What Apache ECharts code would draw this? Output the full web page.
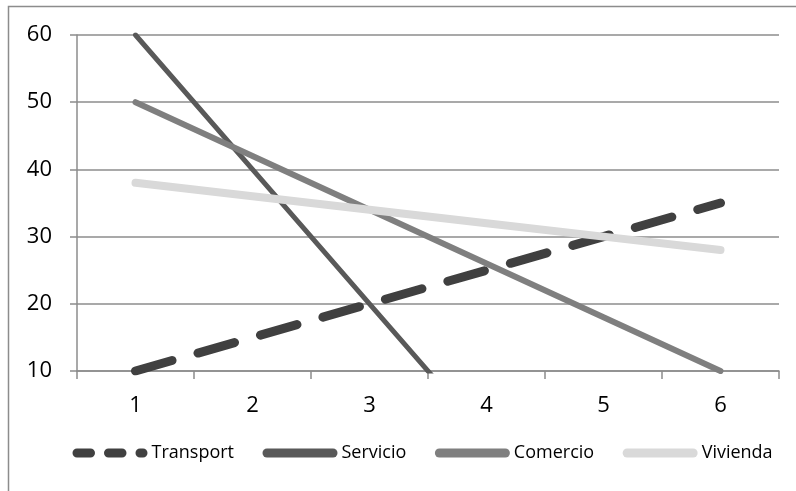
<!DOCTYPE html>
<html><head><meta charset="utf-8">
<script src="https://cdn.jsdelivr.net/npm/echarts@6/dist/echarts.min.js"></script>
<style>html,body{margin:0;padding:0;background:#fff}#c{width:796px;height:491px}</style>
</head><body><div id="c"></div>
<script>
var categories = ['1','2','3','4','5','6'];
var transport = [10, 15, 20, 25, 30, 35];
var servicio = [60, 40, 20, 0, -20, -40];
var comercio = [50, 42, 34, 26, 18, 10];
var vivienda = [38, 36, 34, 32, 30, 28];
var yMin = 10, yMax = 60, yStep = 10;

var chart = echarts.init(document.getElementById('c'), null, {renderer: 'canvas'});
var font = '"Open Sans", "Noto Sans", sans-serif';
function mk(name, data, color, width, type) {
  return {
    name: name, type: 'line', data: data, symbol: 'none', clip: true,
    lineStyle: {color: color, width: width, type: type || 'solid', cap: 'round', join: 'round'},
    itemStyle: {color: color},
    emphasis: {disabled: true}, animation: false
  };
}
function lg(name, color, width, type) {
  return {name: name, itemStyle: {opacity: 0},
    lineStyle: {color: color, width: width, type: type || 'solid', cap: 'round'}};
}
chart.setOption({
  animation: false,
  graphic: [{type: 'rect', shape: {x: 8.5, y: 6.5, width: 800, height: 500}, style: {fill: null, stroke: '#8c8c8c', lineWidth: 1.5}, silent: true}],
  grid: {left: 77, right: 17, top: 35, bottom: 120, containLabel: false},
  xAxis: {
    type: 'category', data: categories, boundaryGap: true,
    axisLine: {lineStyle: {color: '#8c8c8c', width: 1.5}},
    axisTick: {show: true, length: 8, lineStyle: {color: '#8c8c8c', width: 1.5}},
    axisLabel: {color: '#000', fontSize: 22, fontFamily: font, margin: 24}
  },
  yAxis: {
    type: 'value', min: yMin, max: yMax, interval: yStep,
    axisLine: {show: true, lineStyle: {color: '#8c8c8c', width: 1.5}},
    axisTick: {show: true, length: 7, lineStyle: {color: '#8c8c8c', width: 1.5}},
    axisLabel: {color: '#000', fontSize: 22, fontFamily: font, margin: 25},
    splitLine: {lineStyle: {color: '#8c8c8c', width: 1.5}}
  },
  legend: {
    bottom: 29, left: 72.5, padding: 0, itemWidth: 66, itemHeight: 10, itemGap: 28.5,
    textStyle: {color: '#000', fontSize: 18, fontFamily: font, padding: [0,0,0,3.5]},
    data: [
      lg('Transport', '#404040', 9, [13.5, 18]),
      lg('Servicio', '#595959', 9),
      lg('Comercio', '#7f7f7f', 9),
      lg('Vivienda', '#d9d9d9', 9)
    ]
  },
  series: [
    mk('Transport', transport, '#404040', 9, [38, 27]),
    mk('Servicio', servicio, '#595959', 5),
    mk('Comercio', comercio, '#7f7f7f', 6),
    mk('Vivienda', vivienda, '#d9d9d9', 8)
  ]
});
</script></body></html>
